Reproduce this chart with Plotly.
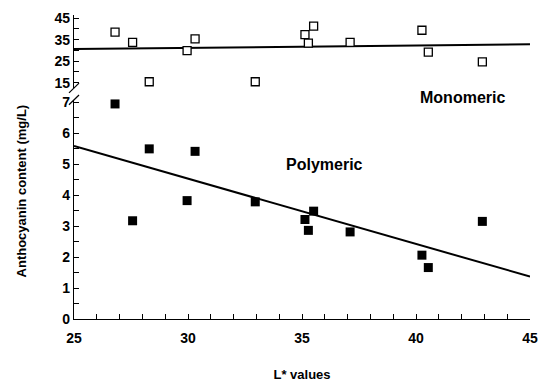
import plotly.graph_objects as go

# Data
l_values = [26.8, 27.57, 28.3, 29.96, 30.31, 32.95, 35.51, 35.13, 35.28, 37.11, 40.26, 40.54, 42.91]
monomeric = [38.5, 33.7, 15.4, 29.9, 35.4, 15.4, 41.3, 37.4, 33.4, 33.7, 39.4, 29.2, 24.7]
polymeric = [6.94, 3.17, 5.49, 3.82, 5.41, 3.78, 3.48, 3.21, 2.86, 2.81, 2.06, 1.66, 3.15]
fit_x = [25, 45]
mono_fit = [30.6, 32.9]
poly_fit = [5.58, 1.37]

x_ticks = list(range(25, 46))
x_labels = [str(v) if v % 5 == 0 else "" for v in x_ticks]
top_ticks = [15, 20, 25, 30, 35, 40, 45]
top_labels = [str(v) if v in (15, 25, 35, 45) else "" for v in top_ticks]
bot_ticks = [i * 0.5 for i in range(15)]
bot_labels = [str(int(v)) if v == int(v) else "" for v in bot_ticks]

font_family = "Liberation Sans, Arial, sans-serif"
tickfont = dict(family=font_family, size=14, color="black", weight="bold")

fig = go.Figure()
# Monomeric (top panel)
fig.add_trace(go.Scatter(x=fit_x, y=mono_fit, mode="lines", line=dict(color="black", width=2),
                         xaxis="x2", yaxis="y2", showlegend=False, hoverinfo="skip"))
fig.add_trace(go.Scatter(x=l_values, y=monomeric, mode="markers",
                         marker=dict(symbol="square", size=8, color="white", line=dict(color="black", width=1.3)),
                         xaxis="x2", yaxis="y2", showlegend=False, cliponaxis=False))
# Polymeric (bottom panel)
fig.add_trace(go.Scatter(x=fit_x, y=poly_fit, mode="lines", line=dict(color="black", width=2),
                         xaxis="x", yaxis="y", showlegend=False, hoverinfo="skip"))
fig.add_trace(go.Scatter(x=l_values, y=polymeric, mode="markers",
                         marker=dict(symbol="square", size=9, color="black", line=dict(color="black", width=0)),
                         xaxis="x", yaxis="y", showlegend=False, cliponaxis=False))

axis_common = dict(showgrid=False, zeroline=False, showline=True, linecolor="black", linewidth=1.2,
                   ticks="inside", tickcolor="black", ticklen=5, tickwidth=1, tickfont=tickfont,
                   automargin=False)

fig.update_layout(
    width=540, height=384,
    margin=dict(l=74, r=10, t=15, b=65, autoexpand=False),
    paper_bgcolor="white", plot_bgcolor="white",
    xaxis=dict(range=[25, 45], domain=[0, 1], anchor="y", tickmode="array", tickvals=x_ticks,
               ticktext=x_labels, ticklabelstandoff=6,
               title=dict(text="L* values", font=dict(family=font_family, size=13, color="black", weight="bold"),
                          standoff=24),
               **axis_common),
    xaxis2=dict(range=[25, 45], domain=[0, 1], anchor="y2", matches="x", visible=False),
    yaxis=dict(range=[0, 7.07], domain=[0, 0.7207], anchor="x", tickmode="array", tickvals=bot_ticks,
               ticktext=bot_labels, **axis_common),
    yaxis2=dict(range=[12.5, 46.5], domain=[0.760, 1], anchor="x2", tickmode="array", tickvals=top_ticks,
                ticktext=top_labels, **axis_common),
)

# y-axis title spanning both panels
fig.add_annotation(text="Anthocyanin content (mg/L)", xref="paper", yref="paper", x=-0.116, y=0.42,
                   xanchor="center", yanchor="middle", textangle=-90, showarrow=False,
                   font=dict(family=font_family, size=13, color="black", weight="bold"))
fig.add_annotation(text="Monomeric", xref="x", yref="paper", x=42.05, y=0.728,
                   xanchor="center", yanchor="middle", showarrow=False,
                   font=dict(family=font_family, size=16, color="black", weight="bold"))
fig.add_annotation(text="Polymeric", xref="x", yref="y", x=35.99, y=5.0,
                   xanchor="center", yanchor="middle", showarrow=False,
                   font=dict(family=font_family, size=16, color="black", weight="bold"))

# axis break marks
for yb in (0.760, 0.7207):
    fig.add_shape(type="line", xref="paper", yref="paper", x0=-0.011, x1=0.011, y0=yb - 0.016, y1=yb + 0.016,
                  line=dict(color="black", width=1.2))

fig.write_html("out.html")
